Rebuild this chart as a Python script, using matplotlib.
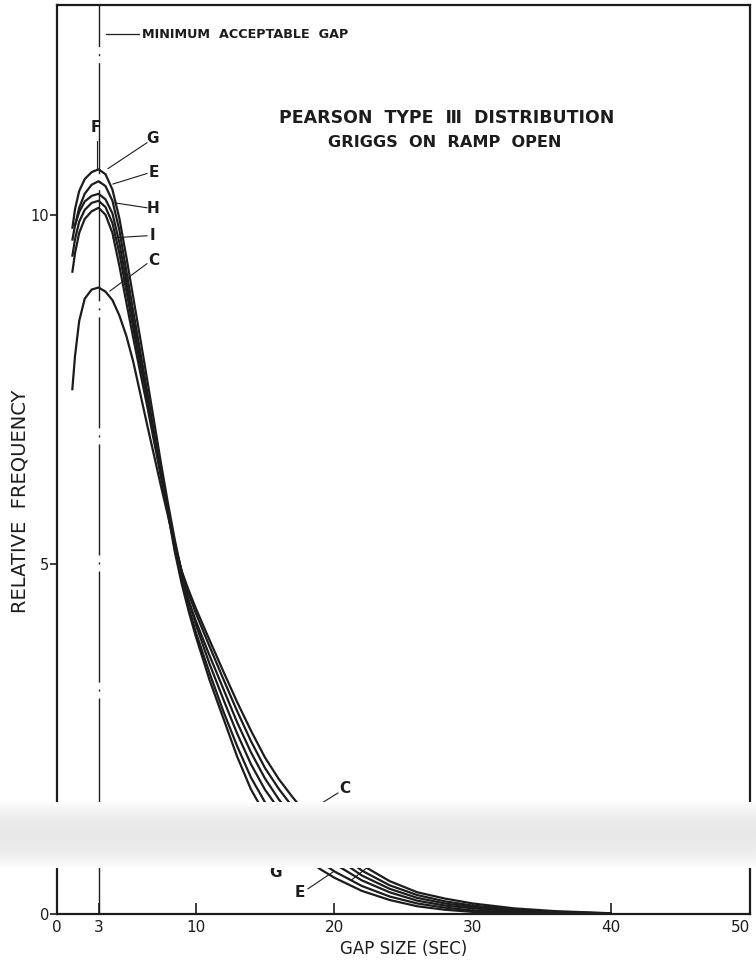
import numpy as np
import matplotlib
matplotlib.use("Agg")
import matplotlib.pyplot as plt

# gap size (sec) at which the curves were read
gap = [1.1, 1.3, 1.6, 2.0, 2.5, 3.0, 3.5, 4.0, 4.5, 5.0, 5.5, 6.0, 6.5, 7.0, 7.5,
       8.0, 8.5, 9.0, 9.5, 10, 11, 12, 13, 14, 15, 16, 17, 18, 19, 20,
       22, 24, 26, 28, 30, 33, 36, 40]

# relative frequency
freq_F = [9.80, 10.08, 10.34, 10.51, 10.61, 10.65, 10.58, 10.36, 9.95, 9.40, 8.82, 8.24, 7.65, 7.05, 6.45,
          5.88, 5.35, 4.88, 4.48, 4.15, 3.58, 3.07, 2.58, 2.14, 1.78, 1.50, 1.26, 1.05, 0.87, 0.72,
          0.48, 0.31, 0.19, 0.12, 0.08, 0.04, 0.018, 0.004]
freq_G = [np.nan, 9.85, 10.10, 10.30, 10.43, 10.48, 10.41, 10.20, 9.78, 9.20, 8.62, 8.05, 7.48, 6.88, 6.30,
          5.74, 5.18, 4.72, 4.33, 3.98, 3.35, 2.80, 2.25, 1.78, 1.43, 1.17, 0.96, 0.79, 0.64, 0.52,
          0.33, 0.20, 0.11, 0.06, 0.03, 0.01, 0.004, 0.0]
freq_E = [9.63, 9.85, 10.04, 10.19, 10.27, 10.30, 10.22, 10.02, 9.60, 9.05, 8.48, 7.95, 7.43, 6.86, 6.30,
          5.76, 5.22, 4.76, 4.38, 4.04, 3.45, 2.90, 2.40, 1.95, 1.60, 1.32, 1.10, 0.91, 0.75, 0.61,
          0.40, 0.25, 0.15, 0.09, 0.05, 0.025, 0.01, 0.002]
freq_H = [9.40, 9.65, 9.90, 10.07, 10.17, 10.20, 10.11, 9.88, 9.45, 8.92, 8.38, 7.87, 7.38, 6.82, 6.28,
          5.77, 5.25, 4.82, 4.48, 4.20, 3.70, 3.22, 2.74, 2.31, 1.94, 1.64, 1.40, 1.18, 0.98, 0.82,
          0.55, 0.36, 0.23, 0.15, 0.10, 0.05, 0.025, 0.006]
freq_I = [9.17, 9.45, 9.74, 9.94, 10.05, 10.10, 10.00, 9.74, 9.27, 8.75, 8.24, 7.75, 7.27, 6.76, 6.26,
          5.78, 5.30, 4.90, 4.58, 4.31, 3.83, 3.36, 2.90, 2.47, 2.09, 1.79, 1.53, 1.30, 1.10, 0.92,
          0.62, 0.41, 0.27, 0.18, 0.12, 0.065, 0.03, 0.008]
freq_C = [7.49, 7.98, 8.48, 8.80, 8.93, 8.96, 8.90, 8.78, 8.56, 8.27, 7.90, 7.45, 7.00, 6.56, 6.12,
          5.70, 5.27, 4.90, 4.63, 4.38, 3.92, 3.47, 3.03, 2.62, 2.24, 1.93, 1.67, 1.43, 1.21, 1.02,
          0.70, 0.47, 0.31, 0.22, 0.15, 0.08, 0.04, 0.01]

curves = {"F": freq_F, "G": freq_G, "E": freq_E, "H": freq_H, "I": freq_I, "C": freq_C}

min_gap = 3
x_ticks = [0, 3, 10, 20, 30, 40, 50]
y_ticks = [0, 5, 10]

ink = "#1c1c1c"
plt.rcParams["font.family"] = ["DejaVu Sans"]

fig = plt.figure(figsize=(7.56, 9.64), dpi=100)
ax = fig.add_axes([0.0754, 0.0519, 0.9166, 0.9429])

for name, vals in curves.items():
    ax.plot(gap, vals, color=ink, lw=1.6, solid_capstyle="butt", solid_joinstyle="round")

# minimum acceptable gap line
ax.plot([min_gap, min_gap], [13, 0], color=ink, lw=1.0,
        linestyle=(50, (80, 5, 1.5, 5)))

ax.set_xlim(0, 50)
ax.set_ylim(0, 13)
ax.set_xticks(x_ticks)
ax.set_xticklabels([str(t) for t in x_ticks])
ax.get_xticklabels()[-1].set_ha("right")
ax.set_yticks(y_ticks)
ax.set_yticklabels([str(t) for t in y_ticks])
ax.tick_params(axis="x", direction="in", length=8, width=1.2, pad=4,
               labelsize=11, colors=ink)
ax.tick_params(axis="y", direction="out", length=5, width=1.2, pad=0.5,
               labelsize=10.5, colors=ink)
for sp in ax.spines.values():
    sp.set_linewidth(1.6)
    sp.set_color(ink)

ax.set_xlabel("GAP SIZE (SEC)", fontsize=12, color=ink, labelpad=4)
fig.text(0.027, 0.48, "RELATIVE  FREQUENCY", rotation=90, fontsize=14,
         color=ink, ha="center", va="center")

ax.text(28.1, 11.39, "PEARSON  TYPE  \u2162  DISTRIBUTION", fontsize=12.5,
        fontweight="bold", color=ink, ha="center", va="center")
ax.text(28.0, 11.03, "GRIGGS  ON  RAMP  OPEN", fontsize=11.6,
        fontweight="bold", color=ink, ha="center", va="center")

# minimum acceptable gap label
ax.plot([3.5, 5.9], [12.58, 12.58], color=ink, lw=0.9)
ax.text(6.1, 12.58, "MINIMUM  ACCEPTABLE  GAP", fontsize=9.2, fontweight="bold",
        color=ink, ha="left", va="center")

# curve labels with leaders
lab = dict(fontsize=11, fontweight="bold", color=ink, ha="center", va="center")
leaders = [
    ("F", (2.81, 11.25), (2.89, 11.06), (2.89, 10.67)),
    ("G", (6.9, 11.09), (6.49, 11.03), (3.68, 10.66)),
    ("E", (6.95, 10.61), (6.49, 10.59), (4.04, 10.44)),
    ("H", (6.9, 10.09), (6.49, 10.10), (4.18, 10.17)),
    ("I", (6.9, 9.70), (6.49, 9.70), (4.04, 9.67)),
    ("C", (6.95, 9.34), (6.49, 9.30), (3.82, 8.91)),
    ("C", (20.8, 1.80), (20.27, 1.73), (18.33, 1.49)),
    ("G", (15.73, 0.59), (16.6, 0.67), (16.96, 0.73)),
    ("E", (17.53, 0.30), (18.11, 0.36), (19.91, 0.60)),
    ("", None, (21.28, 0.49), (23.3, 0.81)),
]
for name, tpos, p0, p1 in leaders:
    ax.plot([p0[0], p1[0]], [p0[1], p1[1]], color=ink, lw=0.8)
    if tpos is not None:
        ax.text(tpos[0], tpos[1], name, **lab)

# scanner fold band across the plate
band = fig.add_axes([0.0, (964 - 868) / 964, 1.0, 66 / 964], zorder=10)
t = np.linspace(0, 1, 120)
shade = 1 - 0.09 * np.sin(np.pi * t) ** 0.7
band.imshow(np.tile(shade[:, None], (1, 10)), cmap="gray", vmin=0, vmax=1,
            aspect="auto", extent=[0, 1, 0, 1])
band.axis("off")

fig.savefig("out.png", dpi=100)
